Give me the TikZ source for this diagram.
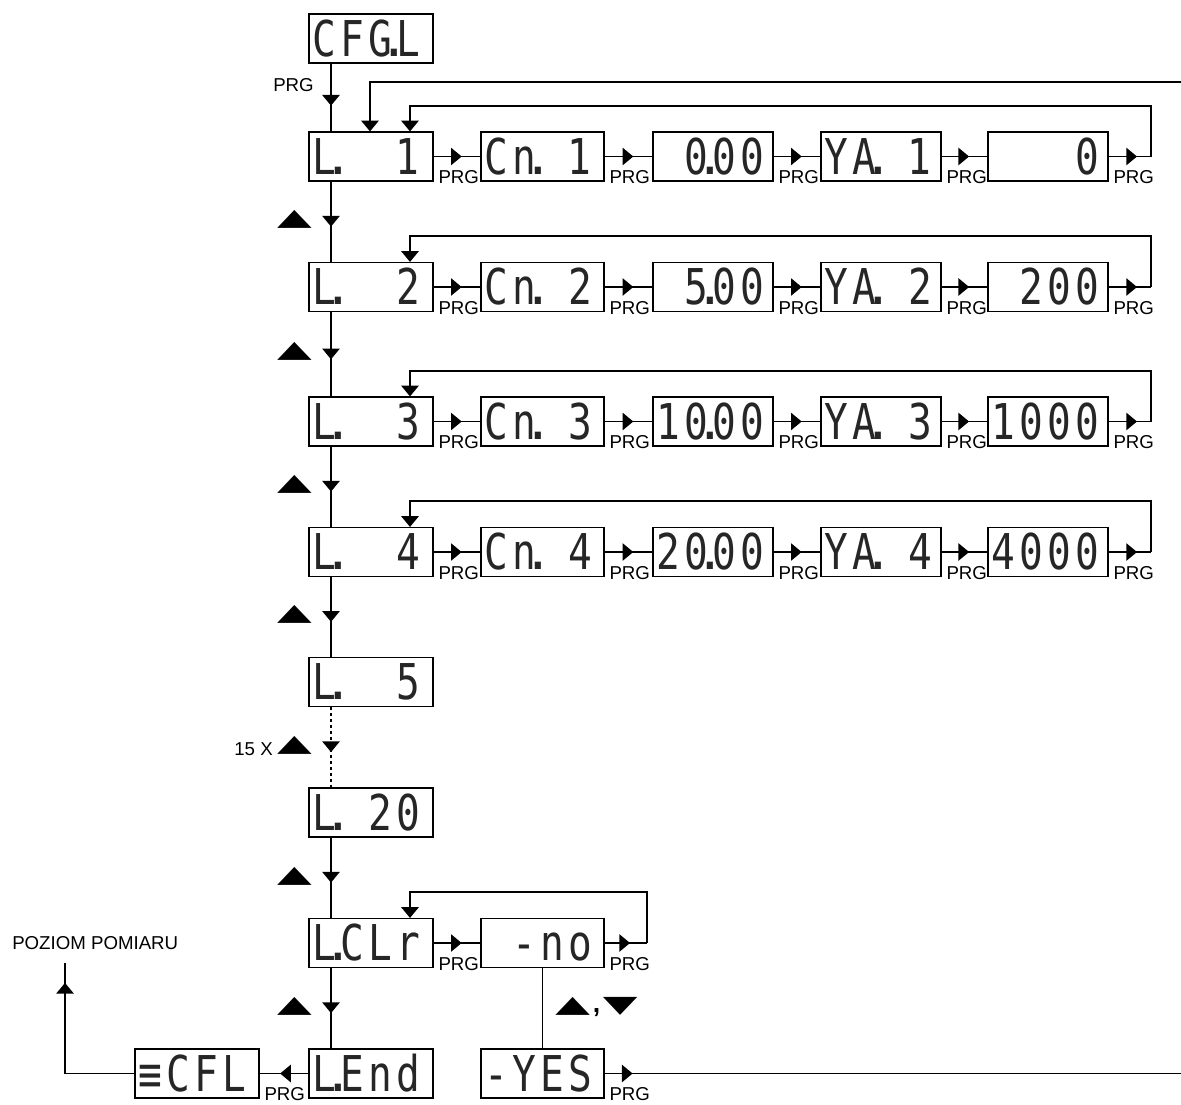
\documentclass[tikz,border=0pt]{standalone}
\usepackage{fontspec}
\setmainfont{Liberation Sans}
\newfontfamily\segfont{DejaVu Sans Mono}
\newfontfamily\symfont{DejaVu Sans}
\usetikzlibrary{arrows.meta,decorations.markings}
\newcommand\SegCell[1]{\makebox[21pt][l]{\makebox[16.5pt][c]{\scalebox{0.8}[1]{#1}}}}
\newcommand\SegDot[1]{\makebox[21pt][l]{\makebox[16.5pt][c]{\scalebox{0.8}[1]{#1}}\makebox[4.5pt][c]{.}}}
\newcommand\SegOne{\makebox[21pt][l]{\makebox[16.5pt][r]{\scalebox{0.8}[1]{1}}}}
\newcommand\Seg[2]{\makebox[#1][l]{\hspace{3pt}{\segfont\fontsize{37pt}{37pt}\selectfont\color{black!85}\vphantom{0}#2}}}
\newcommand\UpT{\resizebox*{26pt}{13.5pt}{\symfont ▲}}
\newcommand\DnT{\resizebox*{26pt}{13.5pt}{\symfont ▼}}
\tikzset{
  disp/.style={draw, line width=0.9pt, inner sep=0pt, minimum height=36.75pt},
  flow/.style={draw, line width=1pt},
  endtip/.style={-{Triangle[length=8pt,width=13pt]}},
  midtip/.style={postaction={decorate}, decoration={markings, mark=at position #1 with {\arrow{Triangle[length=8pt,width=13pt]}}}},
  prg/.style={inner sep=0pt, anchor=base west, font=\fontsize{14pt}{14pt}\selectfont},
  lbl/.style={inner sep=0pt, font=\fontsize{14pt}{14pt}\selectfont},
  tri/.style={inner sep=0pt}
}
\begin{document}
\begin{tikzpicture}[x=0.75pt,y=-0.75pt]
\useasboundingbox (0,0) rectangle (1181,1104);
% top node
\node[disp] (cfg) at (371,38.5) {\Seg{93pt}{\SegCell{C}\SegCell{F}\SegDot{G}\SegCell{L}}};
% row 1
\node[disp] (l1) at (371,156.5) {\Seg{93pt}{\SegDot{L}\SegCell{}\SegCell{}\SegOne}};
\node[disp] (n1) at (542.5,156.5) {\Seg{92.25pt}{\SegCell{C}\SegDot{n}\SegCell{}\SegOne}};
\node[disp] (v1) at (713,156.5) {\Seg{90pt}{\SegCell{}\SegDot{0}\SegCell{0}\SegCell{0}}};
\node[disp] (y1) at (881,156.5) {\Seg{90pt}{\SegCell{Y}\SegDot{A}\SegCell{}\SegOne}};
\node[disp] (o1) at (1048,156.5) {\Seg{90pt}{\SegCell{}\SegCell{}\SegCell{}\SegCell{0}}};
% row 2
\node[disp] (l2) at (371,287) {\Seg{93pt}{\SegDot{L}\SegCell{}\SegCell{}\SegCell{2}}};
\node[disp] (n2) at (542.5,287) {\Seg{92.25pt}{\SegCell{C}\SegDot{n}\SegCell{}\SegCell{2}}};
\node[disp] (v2) at (713,287) {\Seg{90pt}{\SegCell{}\SegDot{5}\SegCell{0}\SegCell{0}}};
\node[disp] (y2) at (881,287) {\Seg{90pt}{\SegCell{Y}\SegDot{A}\SegCell{}\SegCell{2}}};
\node[disp] (o2) at (1048,287) {\Seg{90pt}{\SegCell{}\SegCell{2}\SegCell{0}\SegCell{0}}};
% row 3
\node[disp] (l3) at (371,421.5) {\Seg{93pt}{\SegDot{L}\SegCell{}\SegCell{}\SegCell{3}}};
\node[disp] (n3) at (542.5,421.5) {\Seg{92.25pt}{\SegCell{C}\SegDot{n}\SegCell{}\SegCell{3}}};
\node[disp] (v3) at (713,421.5) {\Seg{90pt}{\SegCell{1}\SegDot{0}\SegCell{0}\SegCell{0}}};
\node[disp] (y3) at (881,421.5) {\Seg{90pt}{\SegCell{Y}\SegDot{A}\SegCell{}\SegCell{3}}};
\node[disp] (o3) at (1048,421.5) {\Seg{90pt}{\SegCell{1}\SegCell{0}\SegCell{0}\SegCell{0}}};
% row 4
\node[disp] (l4) at (371,552) {\Seg{93pt}{\SegDot{L}\SegCell{}\SegCell{}\SegCell{4}}};
\node[disp] (n4) at (542.5,552) {\Seg{92.25pt}{\SegCell{C}\SegDot{n}\SegCell{}\SegCell{4}}};
\node[disp] (v4) at (713,552) {\Seg{90pt}{\SegCell{2}\SegDot{0}\SegCell{0}\SegCell{0}}};
\node[disp] (y4) at (881,552) {\Seg{90pt}{\SegCell{Y}\SegDot{A}\SegCell{}\SegCell{4}}};
\node[disp] (o4) at (1048,552) {\Seg{90pt}{\SegCell{4}\SegCell{0}\SegCell{0}\SegCell{0}}};
% lower column
\node[disp] (l5) at (371,682) {\Seg{93pt}{\SegDot{L}\SegCell{}\SegCell{}\SegCell{5}}};
\node[disp] (l20) at (371,812.5) {\Seg{93pt}{\SegDot{L}\SegCell{}\SegCell{2}\SegCell{0}}};
\node[disp] (lclr) at (371,943) {\Seg{93pt}{\SegDot{L}\SegCell{C}\SegCell{L}\SegCell{r}}};
\node[disp] (no) at (542.5,943) {\Seg{92.25pt}{\SegCell{}\SegCell{-}\SegCell{n}\SegCell{o}}};
\node[disp] (lend) at (371,1073.5) {\Seg{93pt}{\SegDot{L}\SegCell{E}\SegCell{n}\SegCell{d}}};
\node[disp] (yes) at (542.5,1073.5) {\Seg{92.25pt}{\SegCell{-}\SegCell{Y}\SegCell{E}\SegCell{S}}};
\node[disp] (ecfl) at (197,1073.5) {\Seg{93pt}{\SegCell{≡}\SegCell{C}\SegCell{F}\SegCell{L}}};
% helper coordinates
\coordinate (sp) at (331,0);
\coordinate (e1) at (1151,156.5); \coordinate (t1) at (410,106);
\coordinate (e2) at (1151,287);   \coordinate (t2) at (410,236);
\coordinate (e3) at (1151,421.5); \coordinate (t3) at (410,371);
\coordinate (e4) at (1151,552);   \coordinate (t4) at (410,501);
\coordinate (ti) at (1181,82); \coordinate (tk) at (370,82);
\coordinate (ce) at (647,943); \coordinate (ct) at (410,892);
\coordinate (yo) at (1181,1073.5);
\coordinate (pa) at (65,1073.5); \coordinate (pb) at (65,963);
% rows connectors
\foreach \r in {1,...,4}{
  \draw[flow,midtip=0.6] (l\r.east) -- (n\r.west);
  \draw[flow,midtip=0.6] (n\r.east) -- (v\r.west);
  \draw[flow,midtip=0.6] (v\r.east) -- (y\r.west);
  \draw[flow,midtip=0.6] (y\r.east) -- (o\r.west);
  \draw[flow,midtip=0.67] (o\r.east) -- (e\r);
  \draw[flow,endtip] (e\r) |- (t\r) -- (l\r.north -| t\r);
  \foreach \b in {l,n,v,y,o}
    \node[prg] (p\b\r) at ([xshift=3.5pt,yshift=-1.5pt]\b\r.south east) {PRG};
}
\draw[flow,endtip] (ti) -- (tk) -- (l1.north -| tk);
% spine
\draw[flow,midtip=0.62] (cfg.south -| sp) -- (l1.north -| sp);
\node[lbl,anchor=east] (p0) at (314,85) {PRG};
\draw[flow,midtip=0.56] (l1.south -| sp) -- (l2.north -| sp);
\draw[flow,midtip=0.56] (l2.south -| sp) -- (l3.north -| sp);
\draw[flow,midtip=0.56] (l3.south -| sp) -- (l4.north -| sp);
\draw[flow,midtip=0.56] (l4.south -| sp) -- (l5.north -| sp);
\draw[flow,dash pattern=on 2.25pt off 2.25pt,midtip=0.56] (l5.south -| sp) -- (l20.north -| sp);
\draw[flow,midtip=0.56] (l20.south -| sp) -- (lclr.north -| sp);
\draw[flow,midtip=0.56] (lclr.south -| sp) -- (lend.north -| sp);
% up-arrow symbols
\node[tri] (u1) at (294.5,219) {\UpT};
\node[tri] (u2) at (294.5,351) {\UpT};
\node[tri] (u3) at (294.5,484) {\UpT};
\node[tri] (u4) at (294.5,614) {\UpT};
\node[tri] (u5) at (294.5,745) {\UpT};
\node[lbl,anchor=east] (x15) at (273,749) {15 X};
\node[tri] (u6) at (294.5,876) {\UpT};
\node[tri] (u7) at (294.5,1006) {\UpT};
% clear loop
\draw[flow,midtip=0.6] (lclr.east) -- (no.west);
\node[prg] (plclr) at ([xshift=3.5pt,yshift=-1.5pt]lclr.south east) {PRG};
\draw[flow,midtip=0.6] (no.east) -- (ce);
\node[prg] (pno) at ([xshift=3.5pt,yshift=-1.5pt]no.south east) {PRG};
\draw[flow,endtip] (ce) |- (ct) -- (lclr.north -| ct);
\draw[flow] (no.south) -- (yes.north);
\node[tri] (ud) at (596.5,1007) {\UpT\kern2pt{\fontsize{20pt}{20pt}\selectfont\bfseries ,}\kern2pt\DnT};
\draw[flow,midtip=21pt] (yes.east) -- (yo);
\node[prg] (pyes) at ([xshift=3.5pt,yshift=-1.5pt]yes.south east) {PRG};
% end
\draw[flow,midtip=0.58] (lend.west) -- (ecfl.east);
\node[prg] (pecfl) at ([xshift=3.5pt,yshift=-1.5pt]ecfl.south east) {PRG};
\draw[flow,midtip=120pt] (ecfl.west) -- (pa) -- (pb);
\node[lbl,anchor=west] (pz) at (12,943.5) {POZIOM POMIARU};
\end{tikzpicture}
\end{document}
